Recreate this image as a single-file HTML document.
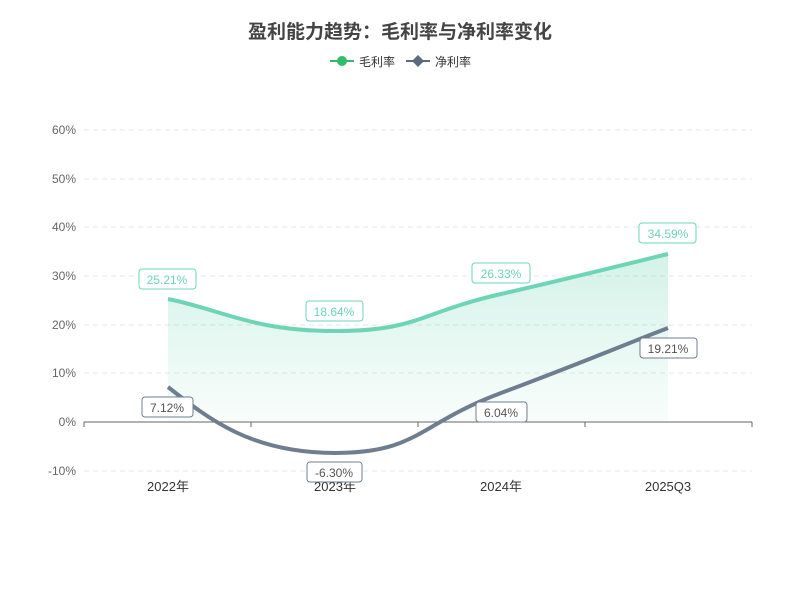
<!DOCTYPE html>
<html><head><meta charset="utf-8"><style>
body{margin:0;background:#fff;}
svg{display:block;font-family:"Liberation Sans","Noto Sans CJK SC",sans-serif;}
</style></head><body>
<svg width="800" height="600" viewBox="0 0 800 600">
<defs>
<linearGradient id="g" gradientUnits="userSpaceOnUse" x1="0" y1="254" x2="0" y2="422">
<stop offset="0" stop-color="#6dd5b4" stop-opacity="0.3"/>
<stop offset="1" stop-color="#6dd5b4" stop-opacity="0.04"/>
</linearGradient>
</defs>
<text x="400" y="38" text-anchor="middle" font-size="19" font-weight="bold" fill="#444">盈利能力趋势：毛利率与净利率变化</text>
<line x1="330" y1="61" x2="354" y2="61" stroke="#3cb371" stroke-width="2"/>
<circle cx="342" cy="61" r="5" fill="#2ebd6b"/>
<text x="359" y="66" font-size="12" fill="#333">毛利率</text>
<line x1="406" y1="61" x2="430" y2="61" stroke="#5a6b80" stroke-width="2"/>
<path d="M418 55 L424 61 L418 67 L412 61Z" fill="#5a6b80"/>
<text x="435" y="66" font-size="12" fill="#333">净利率</text>
<g stroke="#e6e6e6" stroke-dasharray="5,4">
<line x1="84" y1="130" x2="752" y2="130"/><line x1="84" y1="179" x2="752" y2="179"/>
<line x1="84" y1="227" x2="752" y2="227"/><line x1="84" y1="276" x2="752" y2="276"/>
<line x1="84" y1="325" x2="752" y2="325"/><line x1="84" y1="373" x2="752" y2="373"/>
<line x1="84" y1="471" x2="752" y2="471"/>
</g>
<g font-size="12" fill="#666" text-anchor="end">
<text x="76" y="134">60%</text><text x="76" y="183">50%</text><text x="76" y="231">40%</text>
<text x="76" y="280">30%</text><text x="76" y="329">20%</text><text x="76" y="377">10%</text>
<text x="76" y="426">0%</text><text x="76" y="475">-10%</text>
</g>
<path d="M168 299 C223 310 252 331 335 331 C418 331 418 313 501 294 C584 275 626 264 668 254 L668 422 L168 422Z" fill="url(#g)"/>
<line x1="84" y1="422" x2="752" y2="422" stroke="#666"/>
<g stroke="#666"><line x1="84" y1="422" x2="84" y2="427"/><line x1="251" y1="422" x2="251" y2="427"/><line x1="418" y1="422" x2="418" y2="427"/><line x1="585" y1="422" x2="585" y2="427"/><line x1="752" y1="422" x2="752" y2="427"/></g>
<path d="M168 299 C223 310 252 331 335 331 C418 331 418 313 501 294 C584 275 626 264 668 254" fill="none" stroke="#6dd5b4" stroke-width="4"/>
<path d="M168 387 C210 420 252 453 335 453 C418 453 418 424 501 393 C584 362 626 344 668 328" fill="none" stroke="#6e7e8e" stroke-width="4"/>
<g font-size="13" fill="#333" text-anchor="middle">
<text x="168" y="491">2022年</text><text x="335" y="491">2023年</text><text x="501" y="491">2024年</text><text x="668" y="491">2025Q3</text>
</g>
<g font-size="12" text-anchor="middle">
<rect x="139" y="269" width="57" height="20" rx="3" fill="#fff" stroke="#6dd5b4"/><text x="167" y="284" fill="#6dd5b4">25.21%</text>
<rect x="306" y="301" width="57" height="20" rx="3" fill="#fff" stroke="#6dd5b4"/><text x="334" y="316" fill="#6dd5b4">18.64%</text>
<rect x="472" y="263" width="58" height="20" rx="3" fill="#fff" stroke="#6dd5b4"/><text x="501" y="278" fill="#6dd5b4">26.33%</text>
<rect x="639" y="223" width="57" height="20" rx="3" fill="#fff" stroke="#6dd5b4"/><text x="668" y="238" fill="#6dd5b4">34.59%</text>
<rect x="142" y="397" width="51" height="20" rx="3" fill="#fff" stroke="#6e7e8e"/><text x="167" y="412" fill="#555">7.12%</text>
<rect x="307" y="462" width="55" height="20" rx="3" fill="#fff" stroke="#6e7e8e"/><text x="334" y="477" fill="#555">-6.30%</text>
<rect x="476" y="402" width="51" height="20" rx="3" fill="#fff" stroke="#6e7e8e"/><text x="501" y="417" fill="#555">6.04%</text>
<rect x="640" y="338" width="57" height="20" rx="3" fill="#fff" stroke="#6e7e8e"/><text x="668" y="353" fill="#555">19.21%</text>
</g>
</svg>
</body></html>
